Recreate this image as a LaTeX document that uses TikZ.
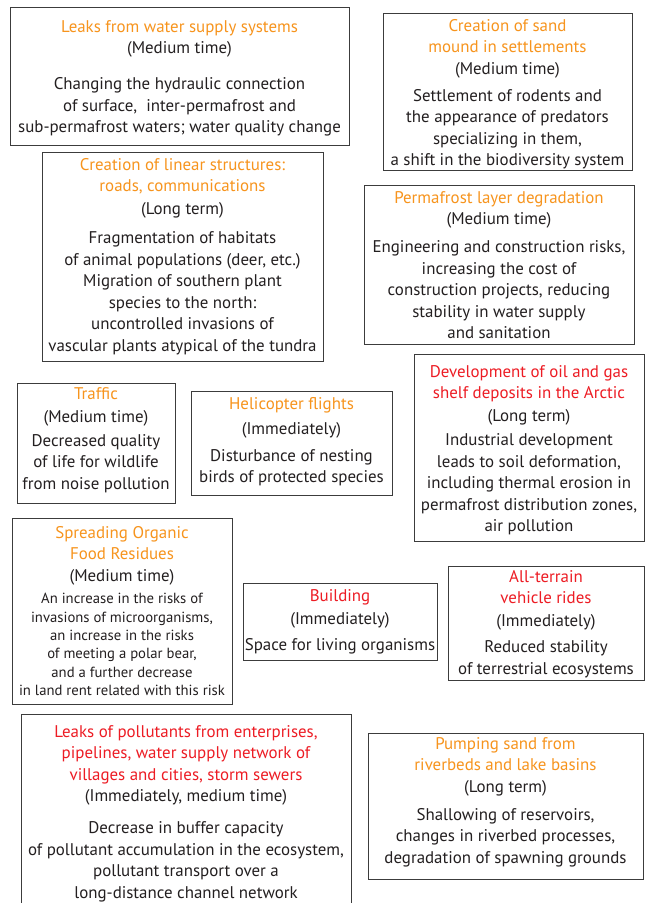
\documentclass[tikz,border=0pt]{standalone}
\usepackage{fontspec}
\setmainfont{PT Sans}
\usetikzlibrary{fit}
\definecolor{ttl}{RGB}{247,148,29}
\definecolor{ttlred}{RGB}{237,28,36}
\definecolor{ink}{RGB}{35,31,32}
\definecolor{edge}{RGB}{60,60,60}
\newcommand{\ot}[1]{\textcolor{ttl}{#1}}
\newcommand{\rt}[1]{\textcolor{ttlred}{#1}}
\tikzset{
  panel/.style={draw=edge, line width=0.9pt, inner sep=0pt},
  txt/.style={anchor=north, align=center, inner sep=0pt, text=ink,
    font=\fontsize{16.9}{21.5}\selectfont},
  sml/.style={anchor=north, align=center, inner sep=0pt, text=ink,
    font=\fontsize{14.7}{18.3}\selectfont},
}
\begin{document}
\begin{tikzpicture}[x=1pt,y=-1pt]
\fill[white] (0,0) rectangle (648,903);
\useasboundingbox (0,0) rectangle (648,903);

% 1
\node[panel, fit={(10,7)(349,145)}] (b1) {};
\node[txt] (t1) at (179.5,17.2) {\strut\ot{Leaks from water supply systems}\\
(Medium time)\\[14.5pt]
Changing the hydraulic connection\\
of surface,~ inter-permafrost and\\
sub-permafrost waters; water quality change};

% 2
\node[panel, fit={(383,13)(632,170)}] (b2) {};
\node[txt] (t2) at (507.5,16.2) {\strut\ot{Creation of sand}\\
\ot{mound in settlements}\\
(Medium time)\\[5.5pt]
Settlement of rodents and\\
the appearance of predators\\
specializing in them,\\
a shift in the biodiversity system};

% 3
\node[panel, fit={(42,152)(323,361)}] (b3) {};
\node[txt] (t3) at (182.5,155.2) {\strut\ot{Creation of linear structures:}\\
\ot{roads, communications}\\[1.5pt]
(Long term)\\[7.5pt]
Fragmentation of habitats\\
of animal populations (deer, etc.)\\
Migration of southern plant\\
species to the north:\\
uncontrolled invasions of\\
vascular plants atypical of the tundra};

% 4
\node[panel, fit={(364,185)(634,344)}] (b4) {};
\node[txt] (t4) at (499,188.2) {\strut\ot{Permafrost layer degradation}\\
(Medium time)\\[6.5pt]
Engineering and construction risks,\\
increasing the cost of\\
construction projects, reducing\\
stability in water supply\\
and sanitation};

% 5
\node[panel, fit={(414,354)(644,541)}] (b5) {};
\node[txt] (t5) at (529,362.2) {\strut\rt{Development of oil and gas}\\
\rt{shelf deposits in the Arctic}\\[1.5pt]
(Long term)\\[2.5pt]
Industrial development\\
leads to soil deformation,\\
including thermal erosion in\\
permafrost distribution zones,\\
air pollution};

% 6
\node[panel, fit={(17,383)(175,503)}] (b6) {};
\node[txt] (t6) at (96,384.2) {\strut\ot{Traffic}\\[1.5pt]
(Medium time)\\[2.5pt]
Decreased quality\\
of life for wildlife\\
from noise pollution};

% 7
\node[panel, fit={(191,391)(392,495)}] (b7) {};
\node[txt] (t7) at (291.5,394.2) {\strut\ot{Helicopter flights}\\[3.5pt]
(Immediately)\\[5.5pt]
Disturbance of nesting\\
birds of protected species};

% 8
\node[panel, fit={(12,518)(232,704)}] (b8) {};
\node[txt] (t8) at (122,523.2) {\strut\ot{Spreading Organic}\\
\ot{Food Residues}\\[0.5pt]
(Medium time)};
\node[sml] (s8) at (122,590.9) {\strut An increase in the risks of\\
invasions of microorganisms,\\
an increase in the risks\\
of meeting a polar bear,\\
and a further decrease\\
in land rent related with this risk};

% 9
\node[panel, fit={(243,583)(437,660)}] (b9) {};
\node[txt] (t9) at (340,586.2) {\strut\rt{Building}\\[1.5pt]
(Immediately)\\[4.5pt]
Space for living organisms};

% 10
\node[panel, fit={(448,566)(644,680)}] (b10) {};
\node[txt] (t10) at (546,567.2) {\strut\rt{All-terrain}\\
\rt{vehicle rides}\\[1.5pt]
(Immediately)\\[4.5pt]
Reduced stability\\
of terrestrial ecosystems};

% 11
\node[panel, fit={(21,714)(351,910)}] (b11) {};
\node[txt] (t11) at (186,722.2) {\strut\rt{Leaks of pollutants from enterprises,}\\
\rt{pipelines, water supply network of}\\
\rt{villages and cities, storm sewers}\\
(Immediately, medium time)\\[10.5pt]
Decrease in buffer capacity\\
of pollutant accumulation in the ecosystem,\\
pollutant transport over a\\
long-distance channel network};

% 12
\node[panel, fit={(368,733)(643,879)}] (b12) {};
\node[txt] (t12) at (505.5,734.2) {\strut\ot{Pumping sand from}\\
\ot{riverbeds and lake basins}\\
(Long term)\\[6.5pt]
Shallowing of reservoirs,\\
changes in riverbed processes,\\
degradation of spawning grounds};
\end{tikzpicture}
\end{document}
